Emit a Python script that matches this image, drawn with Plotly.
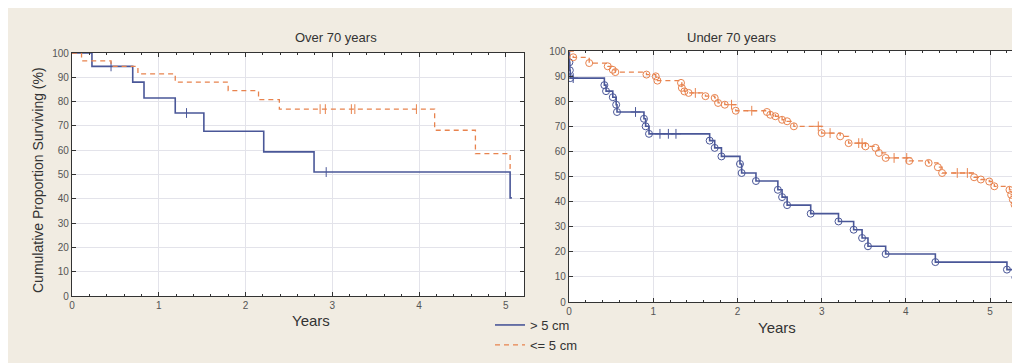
import plotly.graph_objects as go

# ---------------- data ----------------
# Over 70 years
o70_big_t = [0.23, 0.70, 0.83, 1.19, 1.52, 2.21, 2.79, 5.05]
o70_big_s = [94.5, 88.0, 81.5, 75.3, 67.8, 59.3, 51.0, 40.4]
o70_big_end = 5.07
o70_big_cens = [0.45, 1.32, 2.93]

o70_small_t = [0.11, 0.45, 0.76, 1.19, 1.80, 2.15, 2.39, 4.18, 4.65, 5.05]
o70_small_s = [96.8, 94.5, 91.4, 88.0, 84.5, 80.8, 76.9, 68.2, 58.6, 52.5]
o70_small_end = 5.07
o70_small_cens = [2.86, 2.92, 3.22, 3.26, 3.97]

# Under 70 years
u70_big_t = [0.005, 0.01, 0.015, 0.42, 0.44, 0.52, 0.56, 0.57, 0.89, 0.91, 0.95,
             1.67, 1.73, 1.81, 2.03, 2.05, 2.22, 2.48, 2.53, 2.59, 2.87, 3.20,
             3.38, 3.48, 3.55, 3.76, 4.35, 5.20, 5.30]
u70_big_s = [95.5, 92.3, 89.2, 86.4, 84.0, 81.6, 78.6, 75.7, 73.0, 70.0, 67.0,
             64.3, 61.4, 58.0, 55.0, 51.4, 48.2, 44.7, 41.8, 38.6, 35.2, 32.1,
             28.8, 25.5, 22.2, 19.1, 15.9, 12.9, 9.8]
u70_big_end = 5.31
u70_big_cens = [0.05, 0.79, 1.08, 1.18, 1.27]

u70_small_t = [0.05, 0.24, 0.46, 0.52, 0.55, 0.92, 1.03, 1.05, 1.33, 1.34, 1.37,
               1.42, 1.62, 1.73, 1.77, 1.85, 1.98, 2.35, 2.39, 2.45, 2.53, 2.59,
               2.67, 3.00, 3.22, 3.32, 3.52, 3.64, 3.68, 3.76, 4.04, 4.27, 4.38,
               4.43, 4.81, 4.89, 4.99, 5.05, 5.23, 5.25, 5.27, 5.29, 5.33]
u70_small_s = [97.5, 95.2, 93.9, 92.5, 91.6, 90.6, 89.9, 88.2, 87.3, 85.3, 83.9,
               83.3, 82.0, 81.3, 79.3, 78.6, 76.2, 75.7, 74.6, 74.0, 72.6, 72.0,
               70.0, 67.3, 66.0, 63.3, 62.0, 61.4, 59.4, 57.4, 56.2, 55.4, 53.7,
               51.4, 49.7, 48.8, 48.0, 46.1, 44.7, 42.7, 40.8, 38.8, 37.2]
u70_small_end = 5.44
u70_small_cens = [1.50, 1.93, 2.17, 2.96, 3.10, 3.44, 3.48, 3.86, 4.01, 4.61, 4.73, 5.44]

y_ticks = [0, 10, 20, 30, 40, 50, 60, 70, 80, 90, 100]
x_ticks = [0, 1, 2, 3, 4, 5]
legend_labels = ["> 5 cm", "<= 5 cm"]
titles = ["Over 70 years", "Under 70 years"]

BLUE = "#4A5798"
ORANGE = "#E8834E"
BG = "#F1ECE2"
FONT = "Liberation Sans, Arial, sans-serif"


def step_xy(ts, ss, end):
    xs = [0] + list(ts) + [end]
    ys = [100] + list(ss) + [ss[-1]]
    return xs, ys


def surv_at(ts, ss, t):
    v = 100
    for ti, si in zip(ts, ss):
        if ti <= t:
            v = si
    return v


fig = go.Figure()


def add_group(ts, ss, end, cens, color, dash, xa, ya, name, legend, circles, cens_symbol):
    xs, ys = step_xy(ts, ss, end)
    fig.add_trace(go.Scatter(x=xs, y=ys, mode="lines", line_shape="hv",
                             line=dict(color=color, width=1.6 if dash == "solid" else 1.3, dash=dash),
                             name=name, showlegend=legend, xaxis=xa, yaxis=ya,
                             hoverinfo="skip"))
    if circles:
        fig.add_trace(go.Scatter(x=ts, y=ss, mode="markers",
                                 marker=dict(symbol="circle-open", size=7, color=color,
                                             line=dict(width=1, color=color)),
                                 showlegend=False, xaxis=xa, yaxis=ya))
    cy = [surv_at(ts, ss, c) for c in cens]
    fig.add_trace(go.Scatter(x=cens, y=cy, mode="markers",
                             marker=dict(symbol=cens_symbol, size=7, color=color,
                                         line=dict(width=1, color=color)),
                             showlegend=False, xaxis=xa, yaxis=ya))


DASH = "5px,4px"
add_group(o70_big_t, o70_big_s, o70_big_end, o70_big_cens, BLUE, "solid", "x", "y",
          legend_labels[0], True, False, "line-ns")
add_group(o70_small_t, o70_small_s, o70_small_end, o70_small_cens, ORANGE, DASH, "x", "y",
          legend_labels[1], True, False, "line-ns")
add_group(u70_big_t, u70_big_s, u70_big_end, u70_big_cens, BLUE, "solid", "x2", "y2",
          legend_labels[0], False, True, "cross-thin")
add_group(u70_small_t, u70_small_s, u70_small_end, u70_small_cens, ORANGE, DASH, "x2", "y2",
          legend_labels[1], False, True, "cross-thin")

axis_common = dict(showgrid=True, gridcolor="#E3E3EA", gridwidth=1, zeroline=False,
                   showline=True, linecolor="#333333", linewidth=1.2, mirror="ticks",
                   ticks="inside", ticklen=4, tickcolor="#333333", automargin=False,
                   tickfont=dict(family=FONT, size=10, color="#555555"))

fig.update_layout(
    template="none",
    width=1020, height=363,
    margin=dict(l=0, r=0, t=0, b=0),
    paper_bgcolor=BG, plot_bgcolor="white",
    font=dict(family=FONT, color="#333333"),
    xaxis=dict(domain=[64 / 1020, 516 / 1020], range=[0, 5.21], tickvals=x_ticks,
               minor=dict(dtick=0.2, ticks="inside", ticklen=2, tickcolor="#333333", showgrid=False),
               anchor="y", **axis_common),
    yaxis=dict(domain=[1 - 288 / 363, 1 - 45 / 363], range=[0, 100], tickvals=y_ticks,
               anchor="x", **axis_common),
    xaxis2=dict(domain=[561 / 1020, 1.0], range=[0, 5.45], tickvals=x_ticks,
                minor=dict(dtick=0.2, ticks="inside", ticklen=2, tickcolor="#333333", showgrid=False),
                anchor="y2", **axis_common),
    yaxis2=dict(domain=[1 - 294 / 363, 1 - 43 / 363], range=[0, 100], tickvals=y_ticks,
                anchor="x2", **axis_common),
    legend=dict(x=482 / 1020, y=1 - 302 / 363, xanchor="left", yanchor="top",
                bgcolor="rgba(0,0,0,0)", font=dict(family=FONT, size=13, color="#333333"),
                itemwidth=30, tracegroupgap=0),
    annotations=[
        dict(text=titles[0], x=285 / 1020, y=1 - 20 / 363, xref="paper", yref="paper",
             showarrow=False, font=dict(size=13, family=FONT, color="#333333")),
        dict(text=titles[1], x=770 / 1020, y=1 - 20 / 363, xref="paper", yref="paper",
             showarrow=False, font=dict(size=13, family=FONT, color="#333333")),
        dict(text="Years", x=282 / 1020, y=1 - 323 / 363, xref="paper", yref="paper",
             showarrow=False, font=dict(size=15, family=FONT, color="#333333")),
        dict(text="Years", x=790 / 1020, y=1 - 330 / 363, xref="paper", yref="paper",
             showarrow=False, font=dict(size=15, family=FONT, color="#333333")),
        dict(text="Cumulative Proportion Surviving (%)", x=20 / 1020, y=1 - 172 / 363,
             xref="paper", yref="paper", textangle=-90, showarrow=False,
             font=dict(size=14, family=FONT, color="#333333")),
    ],
)

fig.write_html("out.html")
